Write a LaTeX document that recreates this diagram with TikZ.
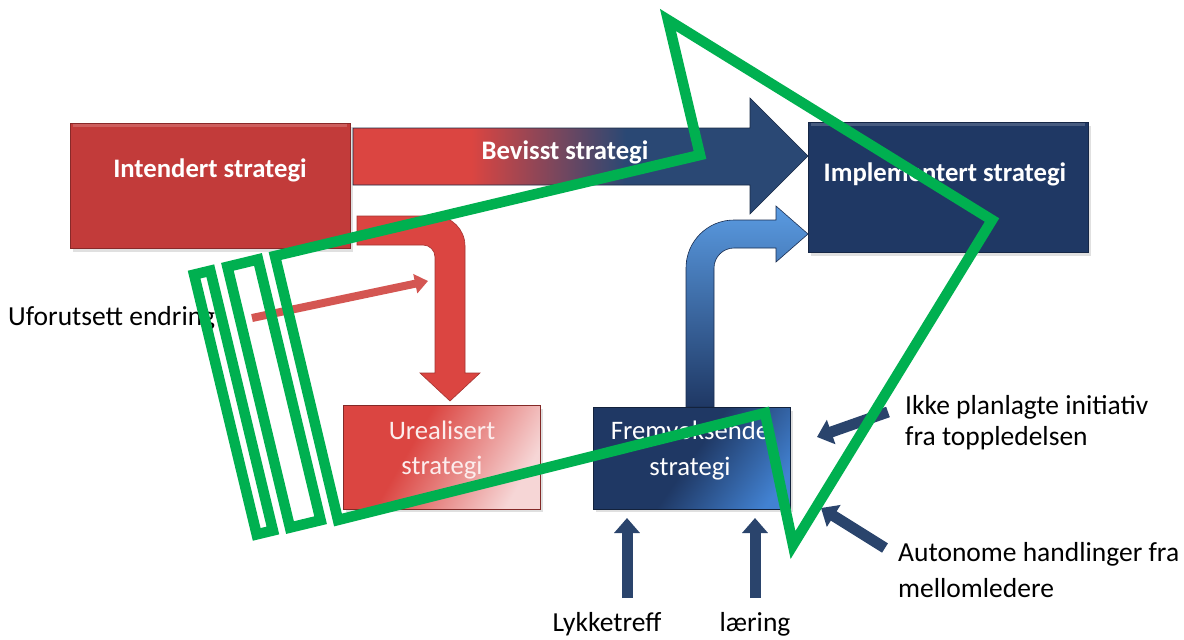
\documentclass[tikz,border=0pt]{standalone}
\usepackage{fontspec}
\setmainfont{Carlito}
\usetikzlibrary{arrows.meta}
\definecolor{ired}{HTML}{C23B3A}
\definecolor{bred}{HTML}{DB4541}
\definecolor{navy}{HTML}{1F3864}
\definecolor{anavy}{HTML}{2A4874}
\definecolor{lblue}{HTML}{5A9BE2}
\definecolor{mblue}{HTML}{3A72BC}
\definecolor{upink}{HTML}{F6D6D6}
\definecolor{fblue}{HTML}{4282D2}
\definecolor{snavy}{HTML}{2A446C}
\definecolor{sred}{HTML}{D45652}
\definecolor{ggreen}{HTML}{00B050}
\definecolor{uwhite}{HTML}{FCEDED}
\pgfdeclarehorizontalshading{bevsh}{100bp}{color(0bp)=(bred); color(38bp)=(bred); color(55bp)=(anavy); color(100bp)=(anavy)}
\pgfdeclarehorizontalshading{uresh}{100bp}{color(0bp)=(bred); color(40bp)=(bred); color(75bp)=(upink); color(100bp)=(upink)}
\pgfdeclarehorizontalshading{fresh}{100bp}{color(0bp)=(navy); color(50bp)=(navy); color(78bp)=(fblue); color(100bp)=(fblue)}
\begin{document}
\begin{tikzpicture}[x=1pt,y=-1pt,
  every node/.style={inner sep=0pt},
  lbl/.style={font=\fontsize{27.5}{31}\selectfont, text=black},
  wlab/.style={font=\fontsize{26.7}{34}\selectfont, text=white},
  boxshape/.style={rectangle, draw=#1, line width=0.8pt},
  bevel/.style={draw=white, opacity=0.18, line width=3pt},
  shadowbox/.style={fill=black, opacity=0.12},
  sarrow/.style={draw=snavy, line width=11pt, -{Triangle[width=25pt,length=15pt]}},
  rsarrow/.style={draw=sred, line width=8pt, -{Triangle[width=19pt,length=13pt]}},
  gline/.style={draw=ggreen, line width=10.5pt, line join=miter, miter limit=10}
]
\path[use as bounding box, fill=white] (0,0) rectangle (1184,640);

% shadows
\fill[shadowbox] (73,127) rectangle (353,252);
\fill[shadowbox] (811,126) rectangle (1091,256);
\fill[shadowbox] (346,409) rectangle (543,512);
\fill[shadowbox] (596,411) rectangle (793,512);

% boxes
\node[boxshape=ired!70!black, fill=ired, minimum width=280pt, minimum height=125pt] (intbox) at (210,185.5) {};
\node[boxshape=navy!70!black, fill=navy, minimum width=280pt, minimum height=130pt] (impbox) at (948,187) {};
\draw[bevel] (intbox.north west) ++(3,3) -- ([xshift=-3pt,yshift=-3pt]intbox.north east);
\draw[bevel] (impbox.north west) ++(3,3) -- ([xshift=-3pt,yshift=-3pt]impbox.north east);

% Bevisst strategi arrow
\shade[shading=bevsh, draw=anavy!60!black, line width=0.6pt] (353,128) -- (750,128) -- (750,98) -- (808,156) -- (750,214) -- (750,185) -- (353,185) -- cycle;

% red bent arrow
\fill[bred, draw=bred!75!black, line width=0.6pt] (357,216) -- (435,216) .. controls (451.6,216) and (465,229.4) .. (465,246) -- (465,373) -- (480,373) -- (450,401) -- (420,373) -- (435,373) -- (435,257) .. controls (435,250.4) and (429.6,245) .. (423,245) -- (357,245) -- cycle;

% blue bent arrow
\shade[top color=lblue, middle color=mblue, bottom color=navy, draw=navy!80!black, line width=0.6pt] (686,407) -- (686,268) .. controls (686,241.5) and (707.5,220) .. (734,220) -- (776,220) -- (776,206) -- (808,234) -- (776,262) -- (776,248) -- (734,248) .. controls (723,248) and (714,257) .. (714,268) -- (714,407) -- cycle;

\node[boxshape=bred!60!black, shade, shading=uresh, shading angle=-30, minimum width=197pt, minimum height=104pt] (urebox) at (441.5,457) {};
\node[boxshape=navy!60!black, shade, shading=fresh, shading angle=-35, minimum width=197pt, minimum height=102pt] (frebox) at (691.5,458) {};

% small arrows
\coordinate (redtail) at (252,318);
\coordinate (redtip) at (428,281);
\draw[rsarrow] (redtail) -- (redtip);
\coordinate (ikketail) at (888,412);
\coordinate (ikketip) at (817,437);
\coordinate (autotail) at (885,548);
\coordinate (autotip) at (821,508);
\coordinate (lyktail) at (627,598);
\coordinate (lyktip) at (627,518);
\coordinate (laertail) at (755,598);
\coordinate (laertip) at (755,518);
\draw[sarrow] (ikketail) -- (ikketip);
\draw[sarrow] (autotail) -- (autotip);
\draw[sarrow] (lyktail) -- (lyktip);
\draw[sarrow] (laertail) -- (laertip);

% texts
\node[wlab] (intl) at (210,170) {\bfseries Intendert strategi};
\node[wlab] (bevl) at (565,152) {\bfseries Bevisst strategi};
\node[wlab] (impl) at (945,174) {\bfseries Implementert strategi};
\node[wlab, text=uwhite, align=center, font=\fontsize{26.7}{35}\selectfont] (urel) at (442,450) {Urealisert\\strategi};
\node[wlab, align=center, font=\fontsize{26.7}{36}\selectfont] (frel) at (690,451) {Fremvoksende\\strategi};
\node[lbl, anchor=west] (ufor) at (8,318) {Uforutsett endring};
\node[lbl, anchor=west, align=left] (ikke) at (905,423) {Ikke planlagte initiativ\\fra toppledelsen};
\node[lbl, anchor=west, align=left, font=\fontsize{27.5}{36}\selectfont] (auto) at (898,570) {Autonome handlinger fra\\mellomledere};
\node[lbl] (lykke) at (607,624) {Lykketreff};
\node[lbl] (laer) at (755,624) {læring};

% green overlay
\draw[gline] (275,256) -- (700,155) -- (668,20) -- (992,220) -- (793,545) -- (765,413) -- (338,520) -- cycle;
\draw[gline] (194.1,274.6) -- (210.3,270.7) -- (272.9,530.5) -- (256.7,534.4) -- cycle;
\draw[gline] (227.4,266.8) -- (258.0,259.4) -- (320.6,520.2) -- (290.0,527.6) -- cycle;
\end{tikzpicture}
\end{document}
